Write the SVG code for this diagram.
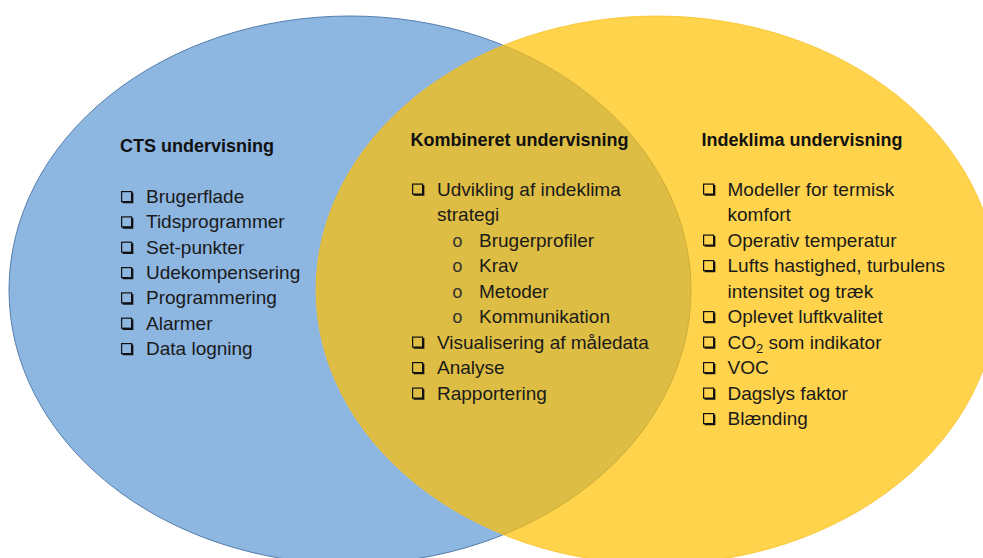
<svg xmlns="http://www.w3.org/2000/svg" xmlns:xlink="http://www.w3.org/1999/xlink" width="983" height="558" viewBox="0 0 983 558">
<style>
.t{font-family:"Liberation Sans",Arial,sans-serif;font-size:19px;fill:#1a1a1a}
.h{font-family:"Liberation Sans",Arial,sans-serif;font-size:18px;font-weight:bold;fill:#111}
.o{font-family:"Liberation Mono","Courier New",monospace;font-size:18px;fill:#333}
</style>
<defs>
<g id="cb">
<rect x="0.6" y="0.6" width="10" height="10" fill="none" stroke="#111" stroke-width="1.2"/>
<polyline points="1.6,11.4 11.4,11.4 11.4,1.6" fill="none" stroke="#111" stroke-width="1.9"/>
</g>
</defs>
<rect width="983" height="558" fill="#fff"/>
<g id="circles">
<ellipse id="cts-circle" cx="350" cy="290" rx="341" ry="274" fill="#8DB6E1" stroke="#557FAE" stroke-width="1"/>
<ellipse id="indeklima-circle" cx="657" cy="290" rx="341" ry="274" fill="#FFC000" fill-opacity="0.7" stroke="#F5BF20" stroke-opacity="0.7" stroke-width="1"/>
</g>
<g id="cts">
<text class="h" x="120" y="152">CTS undervisning</text>
<use xlink:href="#cb" x="121" y="191"/><text class="t" x="146" y="203">Brugerflade</text>
<use xlink:href="#cb" x="121" y="216.3"/><text class="t" x="146" y="228.3">Tidsprogrammer</text>
<use xlink:href="#cb" x="121" y="241.6"/><text class="t" x="146" y="253.6">Set-punkter</text>
<use xlink:href="#cb" x="121" y="267"/><text class="t" x="146" y="279">Udekompensering</text>
<use xlink:href="#cb" x="121" y="292.3"/><text class="t" x="146" y="304.3">Programmering</text>
<use xlink:href="#cb" x="121" y="317.6"/><text class="t" x="146" y="329.6">Alarmer</text>
<use xlink:href="#cb" x="121" y="343"/><text class="t" x="146" y="355">Data logning</text>
</g>
<g id="kombineret">
<text class="h" x="410.5" y="146">Kombineret undervisning</text>
<use xlink:href="#cb" x="412" y="183.5"/><text class="t" x="437" y="195.5">Udvikling af indeklima</text>
<text class="t" x="437" y="221">strategi</text>
<text class="o" x="452" y="246.5">o</text><text class="t" x="479" y="246.5">Brugerprofiler</text>
<text class="o" x="452" y="272">o</text><text class="t" x="479" y="272">Krav</text>
<text class="o" x="452" y="297.5">o</text><text class="t" x="479" y="297.5">Metoder</text>
<text class="o" x="452" y="323">o</text><text class="t" x="479" y="323">Kommunikation</text>
<use xlink:href="#cb" x="412" y="336.5"/><text class="t" x="437" y="348.5">Visualisering af måledata</text>
<use xlink:href="#cb" x="412" y="362"/><text class="t" x="437" y="374">Analyse</text>
<use xlink:href="#cb" x="412" y="387.5"/><text class="t" x="437" y="399.5">Rapportering</text>
</g>
<g id="indeklima">
<text class="h" x="701.5" y="146">Indeklima undervisning</text>
<use xlink:href="#cb" x="703" y="183.5"/><text class="t" x="727.5" y="195.5">Modeller for termisk</text>
<text class="t" x="727.5" y="221">komfort</text>
<use xlink:href="#cb" x="703" y="234.5"/><text class="t" x="727.5" y="246.5">Operativ temperatur</text>
<use xlink:href="#cb" x="703" y="260"/><text class="t" x="727.5" y="272">Lufts hastighed, turbulens</text>
<text class="t" x="727.5" y="297.5">intensitet og træk</text>
<use xlink:href="#cb" x="703" y="311"/><text class="t" x="727.5" y="323">Oplevet luftkvalitet</text>
<use xlink:href="#cb" x="703" y="336.5"/><text class="t" x="727.5" y="348.5">CO<tspan font-size="13" dy="4">2</tspan><tspan dy="-4"> som indikator</tspan></text>
<use xlink:href="#cb" x="703" y="362"/><text class="t" x="727.5" y="374">VOC</text>
<use xlink:href="#cb" x="703" y="387.5"/><text class="t" x="727.5" y="399.5">Dagslys faktor</text>
<use xlink:href="#cb" x="703" y="413"/><text class="t" x="727.5" y="425">Blænding</text>
</g>
</svg>
